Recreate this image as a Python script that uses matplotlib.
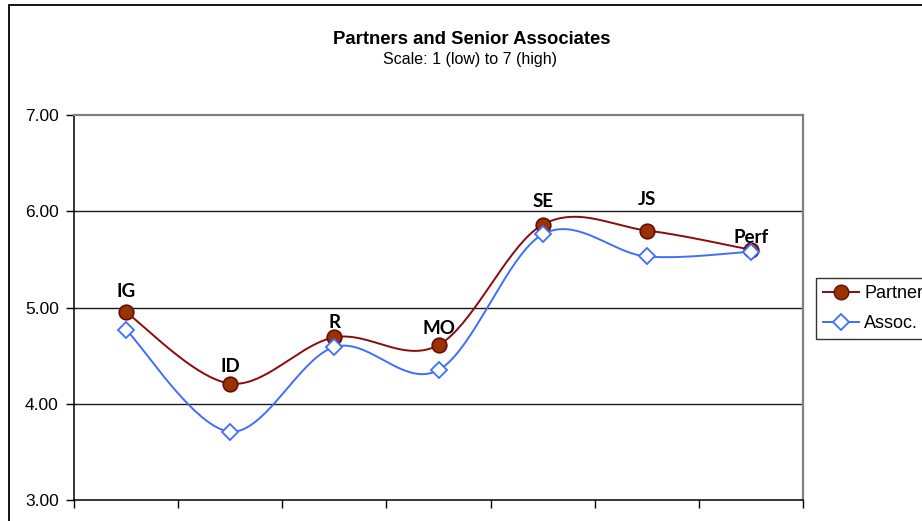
import numpy as np
import matplotlib
matplotlib.use("Agg")
import matplotlib.pyplot as plt
from matplotlib.patches import Rectangle
from matplotlib.lines import Line2D

# Survey dimensions and average scores (scale 1-7)
categories = ["IG", "ID", "R", "MO", "SE", "JS", "Perf"]
partner = [4.95, 4.21, 4.69, 4.61, 5.86, 5.80, 5.60]
assoc = [4.77, 3.71, 4.59, 4.35, 5.76, 5.53, 5.58]
y_ticks = [3.00, 4.00, 5.00, 6.00, 7.00]

# point offsets for the category labels above the partner series
label_offsets = [15, 12.5, 10.5, 12, 17, 22, 9]

PARTNER_LINE = "#8B0A0A"
PARTNER_FACE = "#993300"
ASSOC_LINE = "#3D6EFF"

plt.rcParams["font.family"] = ["Liberation Sans", "DejaVu Sans"]


def smooth(xs, ys, n=40):
    """Bezier smoothing through every point (spreadsheet-style smoothed line)."""
    xs = np.asarray(xs, float)
    ys = np.asarray(ys, float)
    pts = np.column_stack([xs, ys])
    out = []
    m = len(pts)
    for i in range(m - 1):
        p0 = pts[max(i - 1, 0)]
        p1 = pts[i]
        p2 = pts[i + 1]
        p3 = pts[min(i + 2, m - 1)]
        c1 = p1 + (p2 - p0) / 6.0
        c2 = p2 - (p3 - p1) / 6.0
        t = np.linspace(0, 1, n)[:, None]
        seg = ((1 - t) ** 3) * p1 + 3 * ((1 - t) ** 2) * t * c1 + 3 * (1 - t) * t ** 2 * c2 + t ** 3 * p2
        if i > 0:
            seg = seg[1:]
        out.append(seg)
    out = np.vstack(out)
    return out[:, 0], out[:, 1]


W, H = 922, 521
fig = plt.figure(figsize=(W / 100, H / 100), dpi=100)
fig.patch.set_facecolor("white")

# chart-area frame
fig.patches.append(Rectangle((9 / W, -0.2), 1.5, (H - 5) / H + 0.2, transform=fig.transFigure,
                             fill=False, edgecolor="#000000", linewidth=1.3, zorder=0))

ax = fig.add_axes([74 / W, (H - 500) / H, (803 - 74) / W, (500 - 115) / H])
x = np.arange(len(categories))

ax.set_xlim(-0.5, len(categories) - 0.5)
ax.set_ylim(3.0, 7.0)
ax.set_yticks(y_ticks)
ax.set_yticklabels([f"{v:.2f}" for v in y_ticks], fontsize=12.5)
ax.set_xticks(np.arange(len(categories) + 1) - 0.5)
ax.set_xticklabels([])
ax.tick_params(axis="y", direction="out", length=6, width=1, color="#000000", pad=5)
ax.tick_params(axis="x", direction="out", length=6, width=1, color="#000000")

for yv in y_ticks[1:-1]:
    ax.axhline(yv, color="#1a1a1a", linewidth=1.0, zorder=1)

for side in ("left", "bottom"):
    ax.spines[side].set_color("#000000")
    ax.spines[side].set_linewidth(1.1)
for side in ("top", "right"):
    ax.spines[side].set_color("#808080")
    ax.spines[side].set_linewidth(1.6)

sx, sy = smooth(x, assoc)
ax.plot(sx, sy, color=ASSOC_LINE, linewidth=1.4, zorder=3)
ax.plot(x, assoc, linestyle="none", marker="D", markersize=8, markerfacecolor="white",
        markeredgecolor=ASSOC_LINE, markeredgewidth=1.3, zorder=5)

px, py = smooth(x, partner)
ax.plot(px, py, color=PARTNER_LINE, linewidth=1.4, zorder=4)
ax.plot(x, partner, linestyle="none", marker="o", markersize=10.5, markerfacecolor=PARTNER_FACE,
        markeredgecolor="#6b0a0a", markeredgewidth=1.2, zorder=4)

for xi, yi, lab, off in zip(x, partner, categories, label_offsets):
    ax.annotate(lab, (xi, yi), xytext=(0, off), textcoords="offset points",
                ha="center", va="center", fontsize=13.5, fontweight="bold",
                family=["Lato", "DejaVu Sans"], color="#000000")

fig.text(472 / W, 1 - 39.5 / H, "Partners and Senior Associates", ha="center", va="center",
         fontsize=13.3, fontweight="bold")
fig.text(470 / W, 1 - 59.5 / H, "Scale: 1 (low) to 7 (high)", ha="center", va="center",
         fontsize=11.5)

handles = [
    Line2D([], [], color=PARTNER_LINE, linewidth=1.4, marker="o", markersize=10.5,
           markerfacecolor=PARTNER_FACE, markeredgecolor="#6b0a0a"),
    Line2D([], [], color=ASSOC_LINE, linewidth=1.4, marker="D", markersize=8,
           markerfacecolor="white", markeredgecolor=ASSOC_LINE, markeredgewidth=1.3),
]
leg = fig.legend(handles, ["Partner", "Assoc."], loc="upper left",
                 bbox_to_anchor=(816 / W, 1 - 278 / H), fontsize=13, frameon=True,
                 fancybox=False, edgecolor="#000000", handlelength=2.0, handletextpad=0.3,
                 borderpad=0.38, labelspacing=0.75, borderaxespad=0)
leg.get_frame().set_linewidth(1.0)

fig.savefig("out.png", dpi=100)
